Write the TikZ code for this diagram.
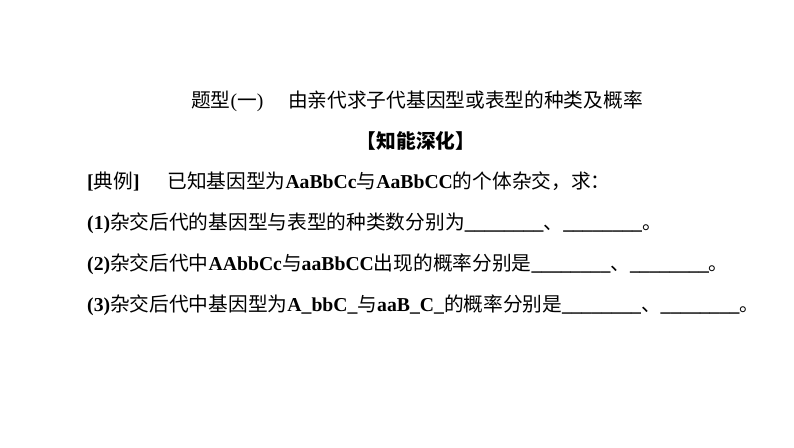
\documentclass[tikz,border=0pt]{standalone}
\usepackage{fontspec}
\setmainfont{Liberation Serif}
\newfontfamily\cjk{Noto Sans CJK SC}
\newcommand{\zh}[1]{{\cjk\mdseries #1}}
\newcommand{\blank}{\_\_\_\_\_\_\_\_}

\begin{document}
\begin{tikzpicture}[x=1pt, y=-1pt,
    txt/.style={inner sep=0pt, font=\fontsize{19.7}{24}\selectfont\bfseries,
        text height=15pt, text depth=5pt},
    row/.style={txt, anchor=west}]
    \useasboundingbox (0,0) rectangle (794,447);

    % heading
    \node[txt, font=\fontsize{19.7}{24}\selectfont] (title) at (417,102)
        {\zh{题型}(\zh{一})\hspace{1.25em}\zh{由亲代求子代基因型或表型的种类及概率}};
    \node[txt] (sub) at (416,143) {{\cjk\bfseries 【知能深化】}};

    % example and questions
    \node[row] (ex) at (87,183)
        {[\zh{典例}]\hspace{1.4em}\zh{已知基因型为}AaBbCc\zh{与}AaBbCC\zh{的个体杂交，求：}};
    \node[row] (q1) at (87,224)
        {(1)\zh{杂交后代的基因型与表型的种类数分别为}\blank\zh{、}\blank\zh{。}};
    \node[row] (q2) at (87,265)
        {(2)\zh{杂交后代中}AAbbCc\zh{与}aaBbCC\zh{出现的概率分别是}\blank\zh{、}\blank\zh{。}};
    \node[row] (q3) at (87,306)
        {(3)\zh{杂交后代中基因型为}A\_bbC\_\zh{与}aaB\_C\_\zh{的概率分别是}\blank\zh{、}\blank\zh{。}};
\end{tikzpicture}
\end{document}
